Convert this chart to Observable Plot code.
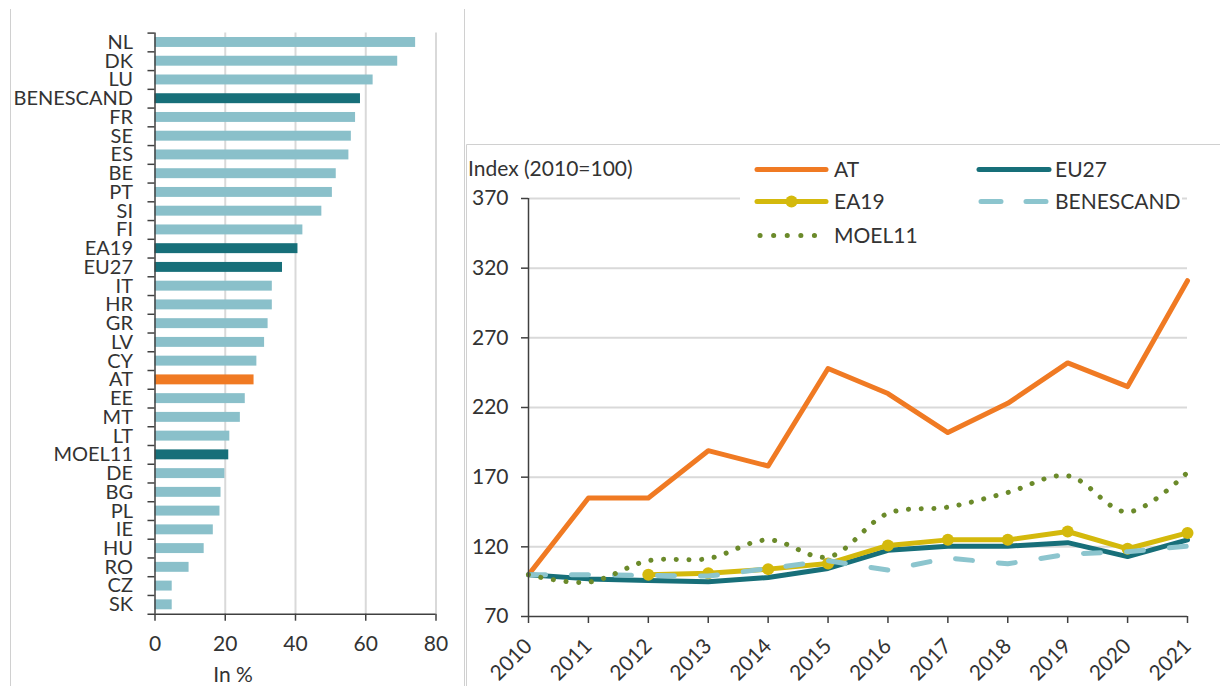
<!DOCTYPE html>
<html><head><meta charset="utf-8">
<script src="https://cdn.jsdelivr.net/npm/d3@7"></script>
<script src="https://cdn.jsdelivr.net/npm/@observablehq/plot@0.6"></script>
<style>
html,body{margin:0;padding:0;background:#fff;}
#root{position:relative;width:1220px;height:686px;overflow:hidden;font-family:Lato,sans-serif;color:#333;}
#root > svg, #root > figure{position:absolute;margin:0;}
</style></head><body><div id="root"></div>
<script>
// ---- left panel data (share in %) ----
const countries = ["NL","DK","LU","BENESCAND","FR","SE","ES","BE","PT","SI","FI","EA19","EU27","IT","HR","GR","LV","CY","AT","EE","MT","LT","MOEL11","DE","BG","PL","IE","HU","RO","CZ","SK"];
const shares = [74.2,69.1,62.1,58.5,57.1,55.9,55.2,51.6,50.5,47.5,42.1,40.7,36.3,33.4,33.4,32.2,31.2,29.0,28.2,25.7,24.3,21.3,21.0,19.9,18.8,18.5,16.6,14.0,9.7,4.9,4.9];
const aggregates = ["BENESCAND","EA19","EU27","MOEL11"];
const highlight = "AT";
const barTicks = [0,20,40,60,80];
const barAxisTitle = "In %";

// ---- right panel data (index 2010=100) ----
const years = [2010,2011,2012,2013,2014,2015,2016,2017,2018,2019,2020,2021];
const seriesNames = ["AT","EU27","EA19","BENESCAND","MOEL11"];
const atIndex = [100,155,155,189,178,248,230,202,223,252,235,311];
const eu27Index = [100,97,95.8,95,98,104.5,117.5,120.5,120.5,123,113,125];
const ea19Index = [null,null,100,101,104,108,121,125,125,131,118.6,130];
const benescandIndex = [100,100,99.5,99,104.5,110,103.3,112,107.8,114.8,116.5,120.5];
const moel11Index = [100,94.6,110,111.6,125,112.7,144,148.5,159,171,145,173.5];
const indexTicks = [70,120,170,220,270,320,370];
const indexTitle = "Index (2010=100)";

const colors = {light:"#8ac0ca", dark:"#176f79", AT:"#f07a23", EU27:"#176f79", EA19:"#d4b90c", BENESCAND:"#8cc5ce", MOEL11:"#6b8a2a"};
const grid = "#d9d9d9", axisCol = "#404040", textCol = "#333";
const FONT = "Lato, sans-serif";
const root = document.getElementById("root");

// ---------- left: bar chart ----------
const barData = countries.map((c,i)=>({country:c, share:shares[i], kind: c===highlight ? "AT" : aggregates.includes(c) ? "agg" : "country"}));
const LM = {top:32.6, bottom:72.3, left:154.5, right:28.5, width:464, height:686};
const step = (LM.height - LM.top - LM.bottom) / countries.length;
const left = Plot.plot({
  width:LM.width, height:LM.height,
  marginLeft:LM.left, marginRight:LM.right, marginTop:LM.top, marginBottom:LM.bottom,
  style:{fontFamily:FONT, fontSize:"20px", color:textCol, background:"transparent", overflow:"visible"},
  x:{domain:[0,80]},
  y:{domain:countries, paddingInner:0.47, paddingOuter:0.235, round:false},
  color:{domain:["country","agg","AT"], range:[colors.light, colors.dark, colors.AT]},
  marks:[
    Plot.ruleX(barTicks.filter(d=>d>0), {stroke:grid, strokeWidth:2}),
    Plot.barX(barData, {x:"share", y:"country", fill:"kind"}),
    Plot.ruleX([0], {stroke:axisCol, strokeWidth:1.5}),
    Plot.ruleY(countries, {y:d=>d, x1:-2, x2:0, dy:-step/2, stroke:axisCol, strokeWidth:1.5}),
    Plot.ruleY([countries[countries.length-1]], {y:d=>d, x1:-2, x2:80, dy:step/2, stroke:axisCol, strokeWidth:1.5}),
    Plot.axisY({tickSize:0, tickPadding:22, label:null, fill:textCol}),
    Plot.axisX({ticks:barTicks, tickSize:7, tickPadding:15, label:null, stroke:axisCol, strokeWidth:1.5, fill:textCol, fontSize:21})
  ]
});
left.style.left = "0px"; left.style.top = "0px";
root.appendChild(left);

// ---------- right: line chart ----------
const idx = {AT:atIndex, EU27:eu27Index, EA19:ea19Index, BENESCAND:benescandIndex, MOEL11:moel11Index};
const long = [];
seriesNames.forEach(s => idx[s].forEach((v,i) => { if (v != null) long.push({series:s, year:years[i], value:v}); }));
const ser = s => long.filter(d => d.series === s);
const RM = {left:466, top:144, width:754, height:542};
const right = Plot.plot({
  width:RM.width, height:RM.height,
  marginLeft:62, marginRight:33, marginTop:54, marginBottom:70,
  style:{fontFamily:FONT, fontSize:"21px", color:textCol, background:"transparent", overflow:"visible"},
  x:{type:"linear", domain:[2010,2021]},
  y:{domain:[70,370]},
  marks:[
    Plot.ruleY(indexTicks.filter(d=>d>70), {stroke:grid, strokeWidth:2}),
    Plot.line(ser("AT"), {x:"year", y:"value", stroke:colors.AT, strokeWidth:5, strokeLinejoin:"round"}),
    Plot.line(ser("EU27"), {x:"year", y:"value", stroke:colors.EU27, strokeWidth:5, strokeLinejoin:"round"}),
    Plot.line(ser("EA19"), {x:"year", y:"value", stroke:colors.EA19, strokeWidth:5, strokeLinejoin:"round"}),
    Plot.dot(ser("EA19"), {x:"year", y:"value", r:6, fill:colors.EA19, stroke:null}),
    Plot.line(ser("BENESCAND"), {x:"year", y:"value", stroke:colors.BENESCAND, strokeWidth:5, strokeDasharray:"17,26", strokeLinecap:"round"}),
    Plot.line(ser("MOEL11"), {x:"year", y:"value", stroke:colors.MOEL11, strokeWidth:5, strokeDasharray:"0.1,12.6", strokeLinecap:"round", curve:"catmull-rom"}),
    Plot.ruleX([2010], {stroke:axisCol, strokeWidth:1.5}),
    Plot.ruleY([70], {stroke:axisCol, strokeWidth:1.5}),
    Plot.axisY({ticks:indexTicks, tickSize:7, tickPadding:13, label:null, stroke:axisCol, strokeWidth:1.5, fill:textCol}),
    Plot.axisX({ticks:years, tickFormat:d=>String(d), tickRotate:-45, tickSize:7, tickPadding:19, label:null, stroke:axisCol, strokeWidth:1.5, fill:textCol})
  ]
});
right.style.left = RM.left + "px"; right.style.top = RM.top + "px";
root.appendChild(right);

// ---------- overlay: frames, titles, legend ----------
const ns = "http://www.w3.org/2000/svg";
const ov = document.createElementNS(ns, "svg");
ov.setAttribute("width", 1220); ov.setAttribute("height", 686);
ov.style.left = "0px"; ov.style.top = "0px"; ov.style.position = "absolute";
ov.style.fontFamily = FONT;
root.appendChild(ov);
function el(tag, attrs, text){ const e = document.createElementNS(ns, tag); for (const k in attrs) e.setAttribute(k, attrs[k]); if (text != null) e.textContent = text; ov.appendChild(e); return e; }
const frameCol = "#d0d0d0";
el("line", {x1:10.5, y1:9, x2:10.5, y2:686, stroke:frameCol});
el("line", {x1:464.5, y1:9, x2:464.5, y2:686, stroke:frameCol});
el("line", {x1:466.5, y1:144.5, x2:1220, y2:144.5, stroke:frameCol});
el("line", {x1:466.5, y1:144.5, x2:466.5, y2:686, stroke:frameCol});
el("text", {x:233, y:682, "text-anchor":"middle", "font-size":21, fill:textCol}, barAxisTitle);
el("text", {x:468, y:176, "font-size":21, fill:textCol}, indexTitle);
el("rect", {x:740, y:150, width:442, height:100, fill:"#fff"});
const legendItems = [
  {name:"AT", col:0, row:0}, {name:"EU27", col:1, row:0},
  {name:"EA19", col:0, row:1}, {name:"BENESCAND", col:1, row:1},
  {name:"MOEL11", col:0, row:2}
];
const colX = [[757,826,834],[979,1049,1055]];
const rowY = [169.5, 201.5, 235.5];
legendItems.forEach(it => {
  const [x1,x2,tx] = colX[it.col]; const y = rowY[it.row];
  const a = {x1, x2, y1:y, y2:y, stroke:colors[it.name], "stroke-width":5, "stroke-linecap":"round"};
  if (it.name === "BENESCAND") { a["stroke-dasharray"] = "20,25"; a.x1 = x1+2; }
  if (it.name === "MOEL11") { a["stroke-dasharray"] = "0.1,13.5"; a.x1 = x1+3; }
  el("line", a);
  if (it.name === "EA19") el("circle", {cx:(x1+x2)/2, cy:y, r:6, fill:colors.EA19});
  el("text", {x:tx, y:y, dy:"0.36em", "font-size":21, fill:textCol}, it.name);
});
</script></body></html>
